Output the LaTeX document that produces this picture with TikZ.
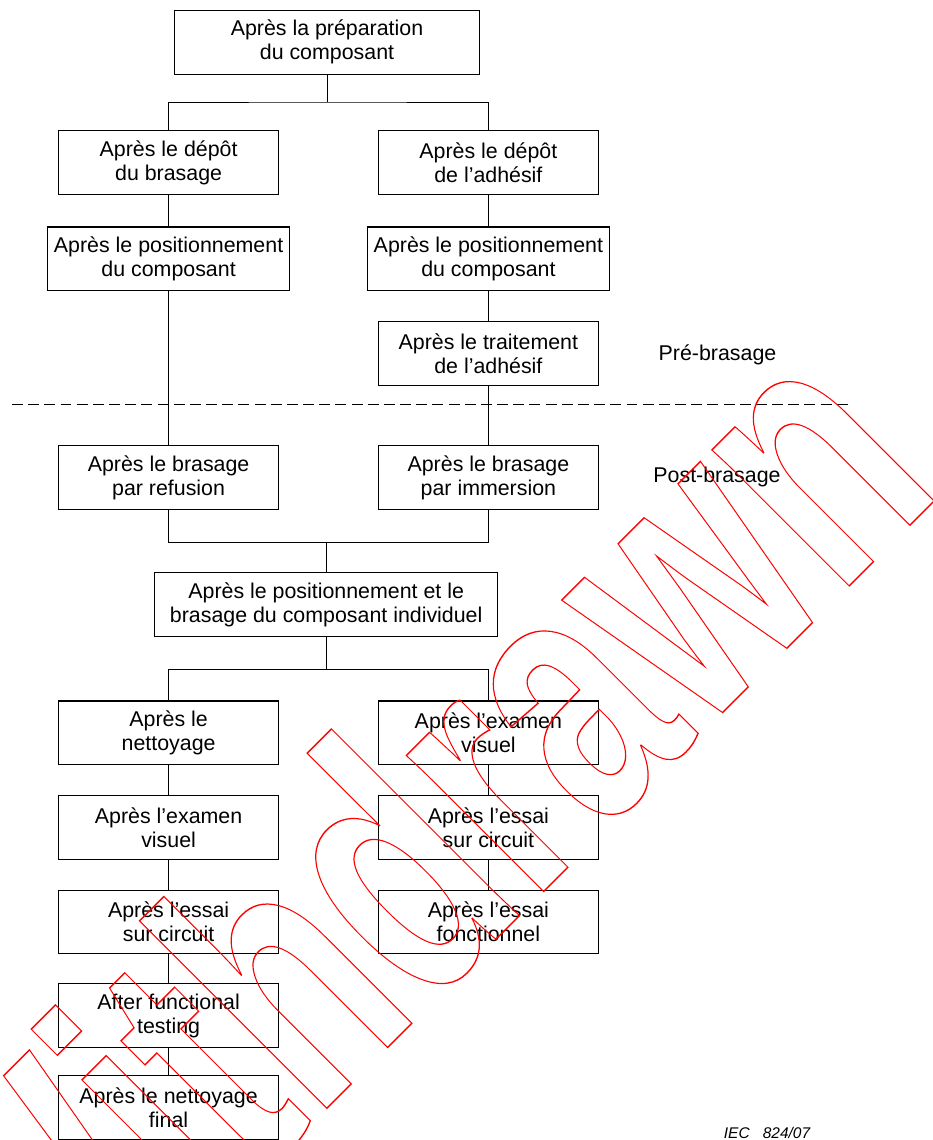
\documentclass[tikz,border=0pt]{standalone}
\usepackage{fontspec}
\setmainfont{Liberation Sans}
\usetikzlibrary{positioning,calc}

% hollow letters for the stamp
\newcommand\outlinetext[1]{\special{pdf:literal direct 1 Tr 1 0 0 RG 1 w}#1\special{pdf:literal direct 0 Tr}}

\begin{document}
\begin{tikzpicture}[
  x=0.025cm, y=-0.025cm,
  font=\fontsize{15.2pt}{17.1pt}\selectfont,
  stage/.style={draw, line width=0.8pt, align=center, inner sep=0pt, minimum height=1.59cm},
  colbox/.style={stage, minimum width=5.5cm},
  widebox/.style={stage, minimum width=6.04cm},
  link/.style={line width=0.6pt},
  split/.style={line width=0.6pt, dash pattern=on 7.8pt off 3.7pt}
]
\useasboundingbox (0,0) rectangle (933,1140);

% -----------------------
% Layout parameters
% -----------------------
\def\xL{168.6}
\def\xR{488.4}
\def\xC{327}

\def\yTop{42.3}
\def\yA{162.5}   % depot
\def\yB{258.8}   % positionnement
\def\yC{353.5}   % traitement
\def\yD{477.7}   % brasage
\def\yE{604.5}   % composant individuel
\def\yF{732.8}
\def\yG{827.5}
\def\yH{922}
\def\yI{1015.7}
\def\yJ{1107.5}

% -----------------------
% Pre-brasage
% -----------------------
\node[stage, minimum width=7.62cm] (prep) at (\xC,\yTop) {Après la préparation\\du composant};

\node[colbox] (depL) at (\xL,\yA) {Après le dépôt\\du brasage};
\node[colbox] (depR) at (\xR,\yA) {Après le dépôt\\de l'adhésif};

\node[widebox] (posL) at (\xL,\yB) {Après le positionnement\\du composant};
\node[widebox] (posR) at (\xR,\yB) {Après le positionnement\\du composant};

\node[colbox] (trtR) at (\xR,\yC) {Après le traitement\\de l'adhésif};

\coordinate (lvA) at (0,102);
\coordinate (jTop) at (prep.south |- lvA);
\draw[link] (prep.south) -- (jTop);
\draw[link] (depL.north) |- (jTop) -| (depR.north);
\draw[link] (depL) -- (posL);
\draw[link] (depR) -- (posR);
\draw[link] (posR) -- (trtR);

% dashed border between the two phases
\coordinate (splitW) at (12,404.3);
\coordinate (splitE) at (849,404.3);
\draw[split] (splitW) -- (splitE);

\node (pre) at (717.5,355) {Pré-brasage};
\node (post) at (717,477) {Post-brasage};

% -----------------------
% Post-brasage
% -----------------------
\node[colbox] (brsL) at (\xL,\yD) {Après le brasage\\par refusion};
\node[colbox] (brsR) at (\xR,\yD) {Après le brasage\\par immersion};

\draw[link] (posL) -- (brsL);
\draw[link] (trtR) -- (brsR);

\node[stage, minimum width=8.57cm] (indiv) at (326.2,\yE) {Après le positionnement et le\\brasage du composant individuel};

\coordinate (lvB) at (0,542.3);
\coordinate (jBrs) at (indiv.north |- lvB);
\draw[link] (brsL.south) |- (jBrs) -| (brsR.south);
\draw[link] (jBrs) -- (indiv.north);

\coordinate (lvC) at (0,669);
\coordinate (jInd) at (indiv.south |- lvC);
\draw[link] (indiv.south) -- (jInd);

% left branch
\node[colbox] (netL) at (\xL,\yF) {Après le\\nettoyage};
\node[colbox] (visL) at (\xL,\yG) {Après l'examen\\visuel};
\node[colbox] (cirL) at (\xL,\yH) {Après l'essai\\sur circuit};
\node[colbox] (fncL) at (\xL,\yI) {After functional\\testing};
\node[colbox] (finL) at (\xL,\yJ) {Après le nettoyage\\final};

% right branch
\node[colbox] (visR) at (\xR,\yF) {Après l'examen\\visuel};
\node[colbox] (cirR) at (\xR,\yG) {Après l'essai\\sur circuit};
\node[colbox] (fncR) at (\xR,\yH) {Après l'essai\\fonctionnel};

\draw[link] (netL.north) |- (jInd) -| (visR.north);
\draw[link] (netL) -- (visL);
\draw[link] (visL) -- (cirL);
\draw[link] (cirL) -- (fncL);
\draw[link] (fncL) -- (finL);
\draw[link] (visR) -- (cirR);
\draw[link] (cirR) -- (fncR);

\node[font=\fontsize{11pt}{13pt}\selectfont\itshape] (iec) at (767,1133) {IEC\hspace{0.85em}824/07};

% stamp across the page
\begin{scope}[shift={(945,490)}, rotate=45, xscale=0.686]
  \node[anchor=base east, inner sep=0pt, transform shape, text=red,
        font=\fontsize{260pt}{260pt}\selectfont\bfseries] (stamp) at (0,0) {\outlinetext{Withdrawn}};
\end{scope}

\end{tikzpicture}
\end{document}
